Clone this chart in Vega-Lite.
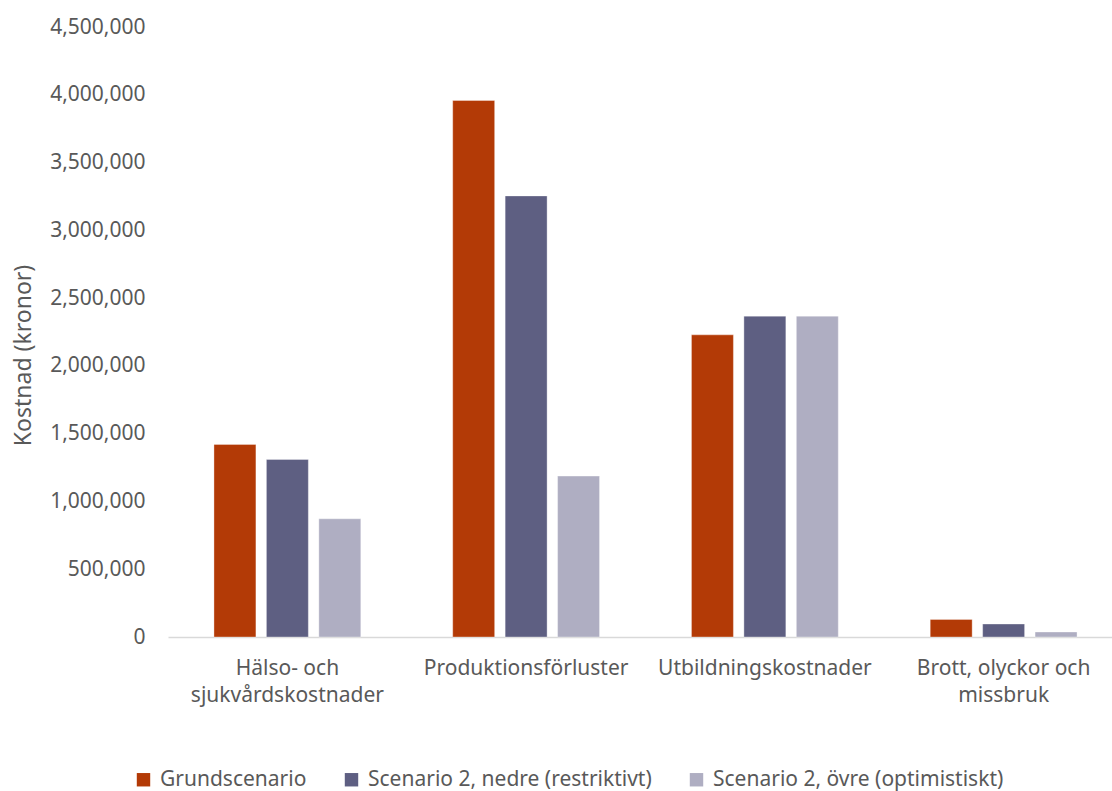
{
  "$schema": "https://vega.github.io/schema/vega-lite/v6.json",
  "width": 955,
  "height": 610,
  "autosize": {"type": "none"},
  "padding": {"left": 168, "top": 27, "right": 0, "bottom": 154},
  "background": "#ffffff",
  "config": {
    "view": {"stroke": null},
    "font": "Noto Sans",
    "axis": {"labelFont": "Noto Sans", "titleFont": "Noto Sans", "labelColor": "#595959", "titleColor": "#595959"}
  },
  "data": {
    "values": [
      {"kategori": "Hälso- och sjukvårdskostnader", "scenario": "Grundscenario", "kostnad": 1421000},
      {"kategori": "Hälso- och sjukvårdskostnader", "scenario": "Scenario 2, nedre (restriktivt)", "kostnad": 1310000},
      {"kategori": "Hälso- och sjukvårdskostnader", "scenario": "Scenario 2, övre (optimistiskt)", "kostnad": 872000},
      {"kategori": "Produktionsförluster", "scenario": "Grundscenario", "kostnad": 3958000},
      {"kategori": "Produktionsförluster", "scenario": "Scenario 2, nedre (restriktivt)", "kostnad": 3254000},
      {"kategori": "Produktionsförluster", "scenario": "Scenario 2, övre (optimistiskt)", "kostnad": 1187000},
      {"kategori": "Utbildningskostnader", "scenario": "Grundscenario", "kostnad": 2229000},
      {"kategori": "Utbildningskostnader", "scenario": "Scenario 2, nedre (restriktivt)", "kostnad": 2367000},
      {"kategori": "Utbildningskostnader", "scenario": "Scenario 2, övre (optimistiskt)", "kostnad": 2367000},
      {"kategori": "Brott, olyckor och missbruk", "scenario": "Grundscenario", "kostnad": 130000},
      {"kategori": "Brott, olyckor och missbruk", "scenario": "Scenario 2, nedre (restriktivt)", "kostnad": 96000},
      {"kategori": "Brott, olyckor och missbruk", "scenario": "Scenario 2, övre (optimistiskt)", "kostnad": 37000}
    ]
  },
  "mark": {"type": "bar", "stroke": "#ffffff", "strokeOpacity": 0.35, "strokeWidth": 1},
  "encoding": {
    "x": {
      "field": "kategori",
      "type": "nominal",
      "sort": null,
      "scale": {"paddingInner": 0.385, "paddingOuter": 0.1925},
      "axis": {
        "title": null,
        "labelAngle": 0,
        "labelFontSize": 21,
        "labelPadding": 20,
        "labelLineHeight": 27,
        "labelBaseline": "top",
        "labelLimit": 400,
        "ticks": false,
        "domainColor": "#D9D9D9",
        "domainWidth": 1.5,
        "labelExpr": "datum.value == 'Hälso- och sjukvårdskostnader' ? ['Hälso- och', 'sjukvårdskostnader'] : datum.value == 'Brott, olyckor och missbruk' ? ['Brott, olyckor och', 'missbruk'] : datum.value"
      }
    },
    "xOffset": {
      "field": "scenario",
      "type": "nominal",
      "sort": null,
      "scale": {"paddingInner": 0.2, "paddingOuter": 0}
    },
    "y": {
      "field": "kostnad",
      "type": "quantitative",
      "scale": {"domain": [0, 4500000], "nice": false},
      "axis": {
        "title": "Kostnad (kronor)",
        "titleFontSize": 23,
        "titleFontWeight": "normal",
        "titleX": -145,
        "titleY": 328,
        "titleBaseline": "middle",
        "titleAlign": "center",
        "titleAngle": -90,
        "values": [0, 500000, 1000000, 1500000, 2000000, 2500000, 3000000, 3500000, 4000000, 4500000],
        "format": ",d",
        "labelFontSize": 21,
        "labelPadding": 23,
        "ticks": false,
        "domain": false,
        "grid": false
      }
    },
    "color": {
      "field": "scenario",
      "type": "nominal",
      "sort": null,
      "scale": {"range": ["#B33A06", "#5E5F82", "#AFAEC2"]},
      "legend": {
        "title": null,
        "orient": "none",
        "direction": "horizontal",
        "legendX": -35,
        "legendY": 742,
        "symbolType": "square",
        "symbolSize": 180,
        "symbolStrokeWidth": 0,
        "labelFontSize": 21,
        "labelColor": "#595959",
        "labelFont": "Noto Sans",
        "labelOffset": 6,
        "columnPadding": 34,
        "labelLimit": 400
      }
    }
  }
}
